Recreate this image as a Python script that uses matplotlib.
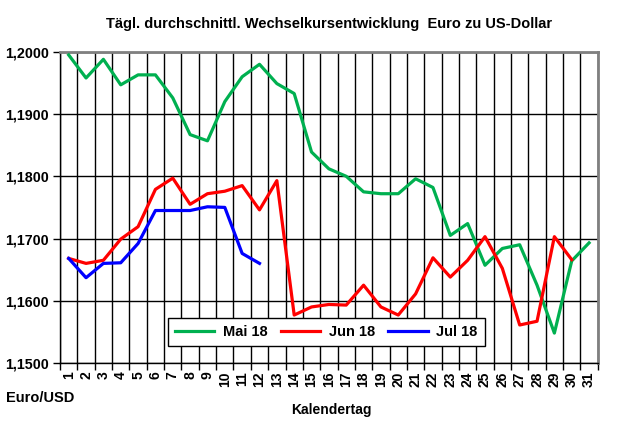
import matplotlib
matplotlib.use('Agg')
import matplotlib.pyplot as plt
from matplotlib.ticker import FuncFormatter

# daily averages Euro / US-Dollar
days = list(range(1, 32))
mai_18 = [1.1995, 1.1958, 1.1988, 1.1947, 1.1963, 1.1963, 1.1926, 1.1867, 1.1857, 1.1920,
          1.1960, 1.1980, 1.1949, 1.1933, 1.1839, 1.1812, 1.1800, 1.1775, 1.1772, 1.1772,
          1.1796, 1.1782, 1.1705, 1.1724, 1.1657, 1.1684, 1.1690, 1.1625, 1.1548, 1.1664,
          1.1693]
jun_18 = [1.1668, 1.1660, 1.1665, 1.1699, 1.1719, 1.1779, 1.1797, 1.1755, 1.1772, 1.1776,
          1.1785, 1.1746, 1.1793, 1.1577, 1.1590, 1.1594, 1.1593, 1.1625, 1.1590, 1.1577,
          1.1611, 1.1669, 1.1638, 1.1665, 1.1703, 1.1652, 1.1561, 1.1567, 1.1703, 1.1666]
jul_18 = [1.1668, 1.1637, 1.1660, 1.1661, 1.1692, 1.1745, 1.1745, 1.1745, 1.1751, 1.1750,
          1.1676, 1.1660]
y_ticks = [1.15, 1.16, 1.17, 1.18, 1.19, 1.20]

plt.rcParams['font.family'] = ['Liberation Sans', 'DejaVu Sans']
plt.rcParams['font.weight'] = 'bold'

fig = plt.figure(figsize=(6.22, 4.25), dpi=100)
ax = fig.add_axes([0.0965, 0.146, 0.8645, 0.732])

ax.plot(days[:len(mai_18)], mai_18, color='#00B050', lw=2.3, label='Mai 18', zorder=3)
ax.plot(days[:len(jun_18)], jun_18, color='#FF0000', lw=2.3, label='Jun 18', zorder=4)
ax.plot(days[:len(jul_18)], jul_18, color='#0000FF', lw=2.3, label='Jul 18', zorder=5)

ax.set_xlim(0.5, 31.5)
ax.set_ylim(1.15, 1.20)

# categories sit between the grid lines
ax.set_xticks(days)
ax.set_xticklabels([str(d) for d in days], rotation=90, fontsize=10, fontweight='bold')
ax.set_xticks([d + 0.5 for d in range(0, 32)], minor=True)
ax.tick_params(axis='x', which='major', length=0, pad=6)
ax.tick_params(axis='x', which='minor', length=5, width=1, color='black')
ax.grid(True, which='minor', axis='x', color='black', lw=1)

ax.set_yticks(y_ticks)
ax.yaxis.set_major_formatter(FuncFormatter(lambda v, p: f'{v:.4f}'.replace('.', ',')))
ax.tick_params(axis='y', length=5, width=1, labelsize=10.3, pad=3)
for lbl in ax.get_yticklabels():
    lbl.set_fontweight('bold')
ax.grid(True, which='major', axis='y', color='black', lw=1)
ax.set_axisbelow(True)

for side in ['top', 'right']:
    ax.spines[side].set_color('#808080')
    ax.spines[side].set_linewidth(2)
for side in ['left', 'bottom']:
    ax.spines[side].set_color('black')
    ax.spines[side].set_linewidth(1)

ax.set_title('Tägl. durchschnittl. Wechselkursentwicklung  Euro zu US-Dollar',
             fontsize=10.5, fontweight='bold', pad=17)

leg = ax.legend(loc='center', bbox_to_anchor=(0.495, 0.1), ncol=3, fontsize=10.5,
                frameon=True, fancybox=False, edgecolor='black', framealpha=1,
                handlelength=2.7, columnspacing=0.9, borderpad=0.5, handletextpad=0.6)
leg.get_frame().set_linewidth(1)
leg.set_zorder(10)

fig.text(0.01, 0.055, 'Euro/USD', fontsize=10.5, fontweight='bold')
fig.text(0.532, 0.025, 'Kalendertag', fontsize=10, fontweight='bold', ha='center')

fig.savefig('out.png', dpi=100)
